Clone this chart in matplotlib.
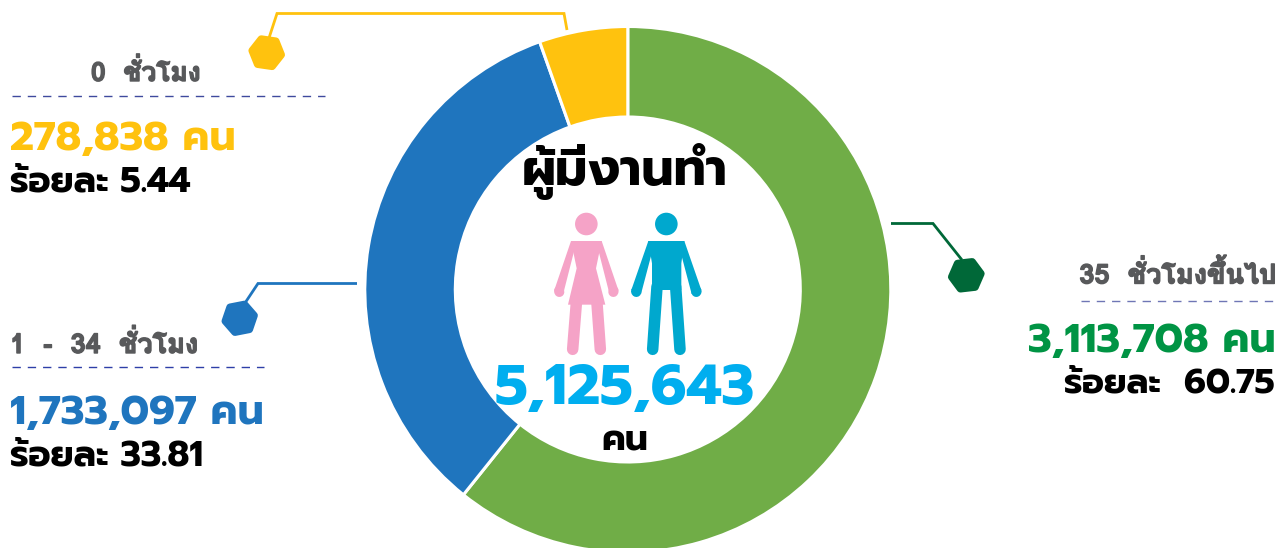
import matplotlib
matplotlib.use("Agg")
import matplotlib.pyplot as plt
import matplotlib.patheffects as pe
from matplotlib.patches import Circle, Polygon, RegularPolygon

# ข้อมูลจำนวนผู้มีงานทำ
labels = ["35  ชั่วโมงขึ้นไป", "1  -  34  ชั่วโมง", "0  ชั่วโมง"]
counts = [3113708, 1733097, 278838]
percents = ["60.75", "33.81", "5.44"]
total = "5,125,643"
pie_colors = ["#70AD47", "#1F75BE", "#FFC20E"]

FONT = ["Prompt", "Liberation Sans"]
LABEL_FONT = ["Loma", "Prompt"]  # Loma วางวรรณยุกต์ซ้อนสระได้ถูกตำแหน่ง
H = 548


# แปลงจากพิกัดภาพ (y ลง) เป็นพิกัดแกน
def Y(y):
    return H - y


def put(ax, x, y, s, size, color, ha="left", family=FONT, thick=0):
    t = ax.text(x, Y(y), s, fontsize=size, color=color, ha=ha, va="center",
                family=family, weight="bold")
    if thick:
        t.set_path_effects([pe.withStroke(linewidth=thick, foreground=color)])


def limb(ax, pts, width, color):
    xs = [p[0] for p in pts]
    ys = [Y(p[1]) for p in pts]
    ax.plot(xs, ys, color=color, lw=width * 0.72, solid_capstyle="round")


# พิกัดจากภาพที่ซูม 3 เท่า
def z(x, y):
    return (500 + x / 3, Y(140 + y / 3))


def zp(x, y):
    return (500 + x / 3, 140 + y / 3)


def draw_woman(ax, color="#F5A3C7"):
    ax.add_patch(Circle(z(259, 252), 11.3, color=color, lw=0))
    ax.add_patch(Polygon([z(213, 303), z(305, 303), z(288, 385), z(316, 494), z(204, 494), z(230, 385)],
                         color=color, lw=0))
    ax.add_patch(Polygon([z(213, 303), z(230, 303), z(190, 460), z(163, 450)], color=color, lw=0))
    ax.add_patch(Polygon([z(305, 303), z(288, 303), z(328, 460), z(355, 450)], color=color, lw=0))
    limb(ax, [zp(177, 453), zp(178, 456)], 10, color)
    limb(ax, [zp(341, 453), zp(340, 456)], 10, color)
    limb(ax, [zp(229, 490), zp(218, 628)], 11.5, color)
    limb(ax, [zp(291, 490), zp(301, 628)], 11.5, color)


def draw_man(ax, color="#00A8CE"):
    ax.add_patch(Circle(z(499, 252), 11.3, color=color, lw=0))
    ax.add_patch(Polygon([z(445, 303), z(553, 303), z(544, 370), z(544, 450), z(456, 450), z(456, 370)],
                         color=color, lw=0))
    ax.add_patch(Polygon([z(445, 303), z(465, 303), z(423, 462), z(394, 450)], color=color, lw=0))
    ax.add_patch(Polygon([z(553, 303), z(533, 303), z(575, 462), z(604, 450)], color=color, lw=0))
    limb(ax, [zp(408, 454), zp(409, 456)], 10, color)
    limb(ax, [zp(590, 454), zp(589, 456)], 10, color)
    limb(ax, [zp(471, 440), zp(458, 628)], 11.5, color)
    limb(ax, [zp(527, 440), zp(540, 628)], 11.5, color)


def callout(ax, pts, center, rot, color, hexcolor):
    ax.plot([p[0] for p in pts], [Y(p[1]) for p in pts], color=color, lw=2,
            solid_joinstyle="miter", solid_capstyle="butt")
    ax.add_patch(RegularPolygon((center[0], Y(center[1])), 6, radius=15, orientation=rot,
                                facecolor=hexcolor, edgecolor=hexcolor, lw=5, joinstyle="round", zorder=3))


fig = plt.figure(figsize=(12.78, 5.48), dpi=100)
ax = fig.add_axes([0, 0, 1, 1])

ax.pie(counts, colors=pie_colors, startangle=90, counterclock=False, center=(627.8, Y(289.5)), radius=263,
       wedgeprops=dict(width=90.5, edgecolor="white", linewidth=2.2))

ax.set_xlim(0, 1278)
ax.set_ylim(0, H)
ax.set_aspect("auto")
ax.axis("off")

# เส้นโยงและรูปหกเหลี่ยม
callout(ax, [(269, 38), (277, 13.5), (564, 13.5), (567, 30)], (266.7, 52.7), 0.38, "#FFC20E", "#FFC20E")
callout(ax, [(891, 223.5), (933, 223.5), (962, 260)], (966.3, 275.3), -0.41, "#006838", "#006838")
callout(ax, [(357, 283.5), (258, 283.5), (245, 303)], (239.7, 318.3), -0.33, "#1F75BE", "#1F75BE")

# เส้นประใต้หัวข้อ
for x0, x1, y, c in [(12, 325, 96, "#3F4A9E"), (12, 264, 366.5, "#2E3FA8"), (1081, 1278, 300.5, "#6F76B5")]:
    ax.plot([x0, x1], [Y(y), Y(y)], color=c, lw=1, dashes=(6, 5))

# ข้อความกลางวง
put(ax, 625, 171, "ผู้มีงานทำ", 36.5, "black", ha="center")
put(ax, 625, 390, total, 41, "#00AEEF", ha="center")
put(ax, 625, 441, "คน", 26, "black", ha="center")
draw_woman(ax)
draw_man(ax)

# ข้อความด้านซ้ายบน
put(ax, 91, 72, labels[2], 19, "#58595B", family=LABEL_FONT, thick=1)
put(ax, 10, 140, f"{counts[2]:,} คน", 29.5, "#FFC20E")
put(ax, 10, 182, f"ร้อยละ {percents[2]}", 25.5, "black")

# ข้อความด้านซ้ายล่าง
put(ax, 10, 344, labels[1], 19.5, "#58595B", family=LABEL_FONT, thick=1)
put(ax, 10, 413, f"{counts[1]:,} คน", 29.5, "#1F75BE")
put(ax, 10, 456, f"ร้อยละ {percents[1]}", 25.5, "black")

# ข้อความด้านขวา
put(ax, 1276, 274, labels[0], 19.5, "#58595B", ha="right", family=LABEL_FONT, thick=1)
put(ax, 1276, 341, f"{counts[0]:,} คน", 29.5, "#009444", ha="right")
put(ax, 1275, 384, f"ร้อยละ  {percents[0]}", 25, "black", ha="right")

fig.savefig("out.png", dpi=100)
